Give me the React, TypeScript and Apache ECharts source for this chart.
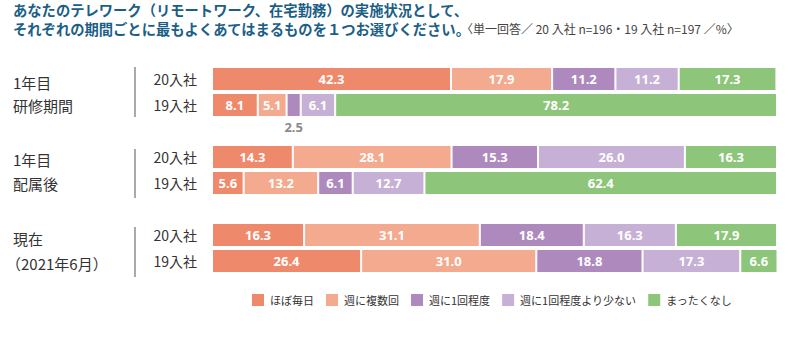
import React, { useEffect, useRef } from "react";
import * as echarts from "echarts";

const rowLabels = ["20入社", "19入社", "", "20入社", "19入社", "", "20入社", "19入社"];
const seriesNames = ["ほぼ毎日", "週に複数回", "週に1回程度", "週に1回程度より少ない", "まったくなし"];
const colors = ["#EF896C", "#F4AA8E", "#AE89BD", "#C7B0D6", "#8DC57A"];
const daily = [42.3, 8.1, null, 14.3, 5.6, null, 16.3, 26.4];
const severalWeek = [17.9, 5.1, null, 28.1, 13.2, null, 31.1, 31.0];
const onceWeek = [11.2, 2.5, null, 15.3, 6.1, null, 18.4, 18.8];
const lessThanWeek = [11.2, 6.1, null, 26.0, 12.7, null, 16.3, 17.3];
const never = [17.3, 78.2, null, 16.3, 62.4, null, 17.9, 6.6];
const groupLabels = [
  ["1年目", "研修期間"],
  ["1年目", "配属後"],
  ["現在", "（2021年6月）"],
];
const titleLine1 = "あなたのテレワーク（リモートワーク、在宅勤務）の実施状況として、";
const titleLine2 = "それぞれの期間ごとに最もよくあてはまるものを１つお選びください。";
const titleNote = "〈単一回答／ 20 入社 n=196・19 入社 n=197 ／%〉";

const FONT = "'Noto Sans CJK JP', 'Noto Sans', sans-serif";

export default function App() {
  const ref = useRef<HTMLDivElement>(null);
  useEffect(() => {
    if (!ref.current) return;
    const chart = echarts.init(ref.current, undefined, { renderer: "svg" });
    const allData = [daily, severalWeek, onceWeek, lessThanWeek, never];
    const series = allData.map((arr, si) => ({
      name: seriesNames[si],
      type: "bar",
      stack: "total",
      barWidth: 24,
      itemStyle: { color: colors[si], borderColor: "#fff", borderWidth: 1 },
      label: {
        show: true,
        position: "inside",
        color: "#fff",
        fontSize: 13,
        fontWeight: "bold",
        fontFamily: "'Noto Sans', sans-serif",
        formatter: (p: any) => (p.value == null ? "" : Number(p.value).toFixed(1)),
      },
      data: arr.map((v) =>
        v === 2.5
          ? {
              value: v,
              label: { position: "bottom", distance: 3, color: "#8a8a8a" },
            }
          : v
      ),
    }));

    const groupCenters = [
      [82, 105],
      [159, 183],
      [238, 263],
    ];
    const lines = [
      [67, 117],
      [149, 198],
      [227, 277],
    ];
    const graphics: any[] = [];
    groupLabels.forEach((g, i) => {
      g.forEach((t, j) => {
        graphics.push({
          type: "text",
          x: j === 1 && i === 2 ? 6 : 13,
          y: groupCenters[i][j],
          style: {
            text: t,
            fontSize: 15,
            fontFamily: FONT,
            fill: "#333",
            verticalAlign: "middle",
          },
        });
      });
      graphics.push({
        type: "line",
        shape: { x1: 135, y1: lines[i][0], x2: 135, y2: lines[i][1] },
        style: { stroke: "#555", lineWidth: 1 },
      });
    });
    graphics.push(
      {
        type: "text",
        x: 13,
        y: 9,
        style: { text: titleLine1, fontSize: 14.3, lineHeight: 16, fontWeight: "bold", fontFamily: FONT, fill: "#1B5E86", verticalAlign: "middle" },
      },
      {
        type: "text",
        x: 13,
        y: 28,
        style: { text: titleLine2, fontSize: 14.3, lineHeight: 16, fontWeight: "bold", fontFamily: FONT, fill: "#1B5E86", verticalAlign: "middle" },
      },
      {
        type: "text",
        x: 461,
        y: 28,
        style: { text: titleNote, fontSize: 12, lineHeight: 14, fontFamily: FONT, fill: "#444", verticalAlign: "middle" },
      }
    );

    chart.setOption({
      animation: false,
      textStyle: { fontFamily: FONT },
      grid: { left: 212, right: 13, top: 66, height: 208 },
      xAxis: { type: "value", min: 0, max: 100, show: false },
      yAxis: {
        type: "category",
        inverse: true,
        data: rowLabels,
        axisLine: { show: false },
        axisTick: { show: false },
        axisLabel: { color: "#333", fontSize: 14, margin: 15, fontFamily: FONT },
      },
      legend: {
        left: 245,
        top: 287,
        itemWidth: 14,
        itemHeight: 14,
        itemGap: 10,
        icon: "rect",
        textStyle: { fontSize: 11, color: "#333", fontFamily: FONT },
        data: seriesNames,
      },
      series,
      graphic: graphics,
    });
    return () => chart.dispose();
  }, []);
  return <div ref={ref} style={{ position: "absolute", left: 0, top: 0, width: 790, height: 339 }} />;
}
